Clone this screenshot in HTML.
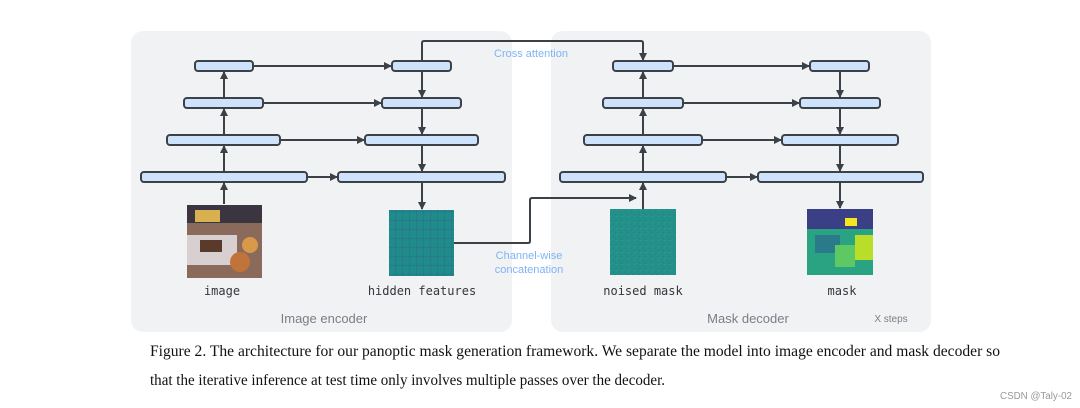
<!DOCTYPE html>
<html><head><meta charset="utf-8"><style>
html,body{margin:0;padding:0;background:#fff;width:1080px;height:408px;overflow:hidden}
svg{display:block}
</style></head><body>
<svg width="1080" height="408" viewBox="0 0 1080 408" xmlns="http://www.w3.org/2000/svg">
<defs>
<marker id="a" markerWidth="8" markerHeight="8" refX="7" refY="4" orient="auto" markerUnits="userSpaceOnUse">
<path d="M0,0 L8,4 L0,8 z" fill="#3c4148"/></marker>
<pattern id="noise" width="6" height="6" patternUnits="userSpaceOnUse">
<rect width="6" height="6" fill="#23918a"/><rect x="1" y="2" width="1" height="1" fill="#2a7f8e"/><rect x="4" y="0" width="1" height="1" fill="#2fa386"/><rect x="3" y="4" width="1" height="1" fill="#1f7a8a"/></pattern>
<pattern id="hid" width="7" height="9" patternUnits="userSpaceOnUse">
<rect width="7" height="9" fill="#1f8c8a"/><path d="M0,4 L7,5 M3,0 L4,9" stroke="#2a7090" stroke-width="0.7"/></pattern>
</defs>
<rect x="131" y="31" width="381" height="301" rx="12" fill="#f1f2f4"/>
<rect x="551" y="31" width="380" height="301" rx="12" fill="#f1f2f4"/>
<g stroke="#3c4148" stroke-width="2" fill="none">
<line x1="224" y1="204" x2="224" y2="183" marker-end="url(#a)"/>
<line x1="224" y1="172" x2="224" y2="146" marker-end="url(#a)"/>
<line x1="224" y1="135" x2="224" y2="109" marker-end="url(#a)"/>
<line x1="224" y1="98" x2="224" y2="72" marker-end="url(#a)"/>
<line x1="253" y1="66" x2="391" y2="66" marker-end="url(#a)"/>
<line x1="263" y1="103" x2="381" y2="103" marker-end="url(#a)"/>
<line x1="280" y1="140" x2="364" y2="140" marker-end="url(#a)"/>
<line x1="307" y1="177" x2="337" y2="177" marker-end="url(#a)"/>
<line x1="422" y1="71" x2="422" y2="97" marker-end="url(#a)"/>
<line x1="422" y1="108" x2="422" y2="134" marker-end="url(#a)"/>
<line x1="422" y1="145" x2="422" y2="171" marker-end="url(#a)"/>
<line x1="422" y1="182" x2="422" y2="209" marker-end="url(#a)"/>
<path d="M422,61 V43 Q422,41 424,41 H641 Q643,41 643,43 V60" marker-end="url(#a)"/>
<path d="M454,243 H528 Q530,243 530,241 V200 Q530,198 532,198 H636" marker-end="url(#a)"/>
<line x1="643" y1="209" x2="643" y2="183" marker-end="url(#a)"/>
<line x1="643" y1="172" x2="643" y2="146" marker-end="url(#a)"/>
<line x1="643" y1="135" x2="643" y2="109" marker-end="url(#a)"/>
<line x1="643" y1="98" x2="643" y2="72" marker-end="url(#a)"/>
<line x1="673" y1="66" x2="809" y2="66" marker-end="url(#a)"/>
<line x1="683" y1="103" x2="799" y2="103" marker-end="url(#a)"/>
<line x1="702" y1="140" x2="781" y2="140" marker-end="url(#a)"/>
<line x1="726" y1="177" x2="757" y2="177" marker-end="url(#a)"/>
<line x1="840" y1="71" x2="840" y2="97" marker-end="url(#a)"/>
<line x1="840" y1="108" x2="840" y2="134" marker-end="url(#a)"/>
<line x1="840" y1="145" x2="840" y2="171" marker-end="url(#a)"/>
<line x1="840" y1="182" x2="840" y2="208" marker-end="url(#a)"/>
</g>
<g fill="#cfe2fb" stroke="#3c4148" stroke-width="2">
<rect x="195" y="61" width="58" height="10" rx="3"/>
<rect x="184" y="98" width="79" height="10" rx="3"/>
<rect x="167" y="135" width="113" height="10" rx="3"/>
<rect x="141" y="172" width="166" height="10" rx="3"/>
<rect x="392" y="61" width="59" height="10" rx="3"/>
<rect x="382" y="98" width="79" height="10" rx="3"/>
<rect x="365" y="135" width="113" height="10" rx="3"/>
<rect x="338" y="172" width="167" height="10" rx="3"/>
<rect x="613" y="61" width="60" height="10" rx="3"/>
<rect x="603" y="98" width="80" height="10" rx="3"/>
<rect x="584" y="135" width="118" height="10" rx="3"/>
<rect x="560" y="172" width="166" height="10" rx="3"/>
<rect x="810" y="61" width="59" height="10" rx="3"/>
<rect x="800" y="98" width="80" height="10" rx="3"/>
<rect x="782" y="135" width="116" height="10" rx="3"/>
<rect x="758" y="172" width="165" height="10" rx="3"/>
</g>
<rect x="187" y="205" width="75" height="73" fill="#8a6a5a"/>
<rect x="187" y="205" width="75" height="18" fill="#3a3540"/>
<rect x="187" y="235" width="50" height="30" fill="#d8cfd0"/>
<rect x="200" y="240" width="22" height="12" fill="#5a3a2a"/>
<circle cx="240" cy="262" r="10" fill="#c0743a"/><circle cx="250" cy="245" r="8" fill="#d89a4a"/>
<rect x="195" y="210" width="25" height="12" fill="#d8b050"/>
<rect x="389" y="210" width="65" height="66" fill="url(#hid)"/>
<rect x="610" y="209" width="66" height="66" fill="url(#noise)"/>
<rect x="807" y="209" width="66" height="66" fill="#2aa383"/>
<rect x="807" y="209" width="66" height="20" fill="#3b3f86"/>
<rect x="845" y="218" width="12" height="8" fill="#f3e61f"/>
<rect x="815" y="235" width="25" height="18" fill="#2a7a8c"/>
<rect x="855" y="235" width="18" height="25" fill="#b8de29"/>
<rect x="835" y="245" width="20" height="22" fill="#5ec962"/>
<g font-family="DejaVu Sans Mono, monospace" fill="#33363b" font-size="12" text-anchor="middle">
<text x="222" y="295">image</text>
<text x="422" y="295">hidden features</text>
<text x="643" y="295">noised mask</text>
<text x="842" y="295">mask</text>
</g>
<g font-family="Liberation Sans, sans-serif" font-size="13" fill="#7a7e85" text-anchor="middle">
<text x="324" y="323">Image encoder</text>
<text x="748" y="323">Mask decoder</text>
<text x="891" y="322" font-size="10">X steps</text>
</g>
<g font-family="Liberation Sans, sans-serif" font-size="11" fill="#7fb3f5" text-anchor="middle">
<text x="531" y="57">Cross attention</text>
<text x="529" y="259">Channel-wise</text>
<text x="529" y="273">concatenation</text>
</g>
<g font-family="Liberation Serif, serif" font-size="16" fill="#111">
<text x="150" y="356" textLength="850" lengthAdjust="spacingAndGlyphs">Figure 2. The architecture for our panoptic mask generation framework. We separate the model into image encoder and mask decoder so</text>
<text x="150" y="385" textLength="515" lengthAdjust="spacingAndGlyphs">that the iterative inference at test time only involves multiple passes over the decoder.</text>
</g>
<text x="1000" y="399" font-family="Liberation Sans, sans-serif" font-size="10" fill="#999" textLength="72" lengthAdjust="spacingAndGlyphs">CSDN @Taly-02</text>
</svg>
</body></html>
